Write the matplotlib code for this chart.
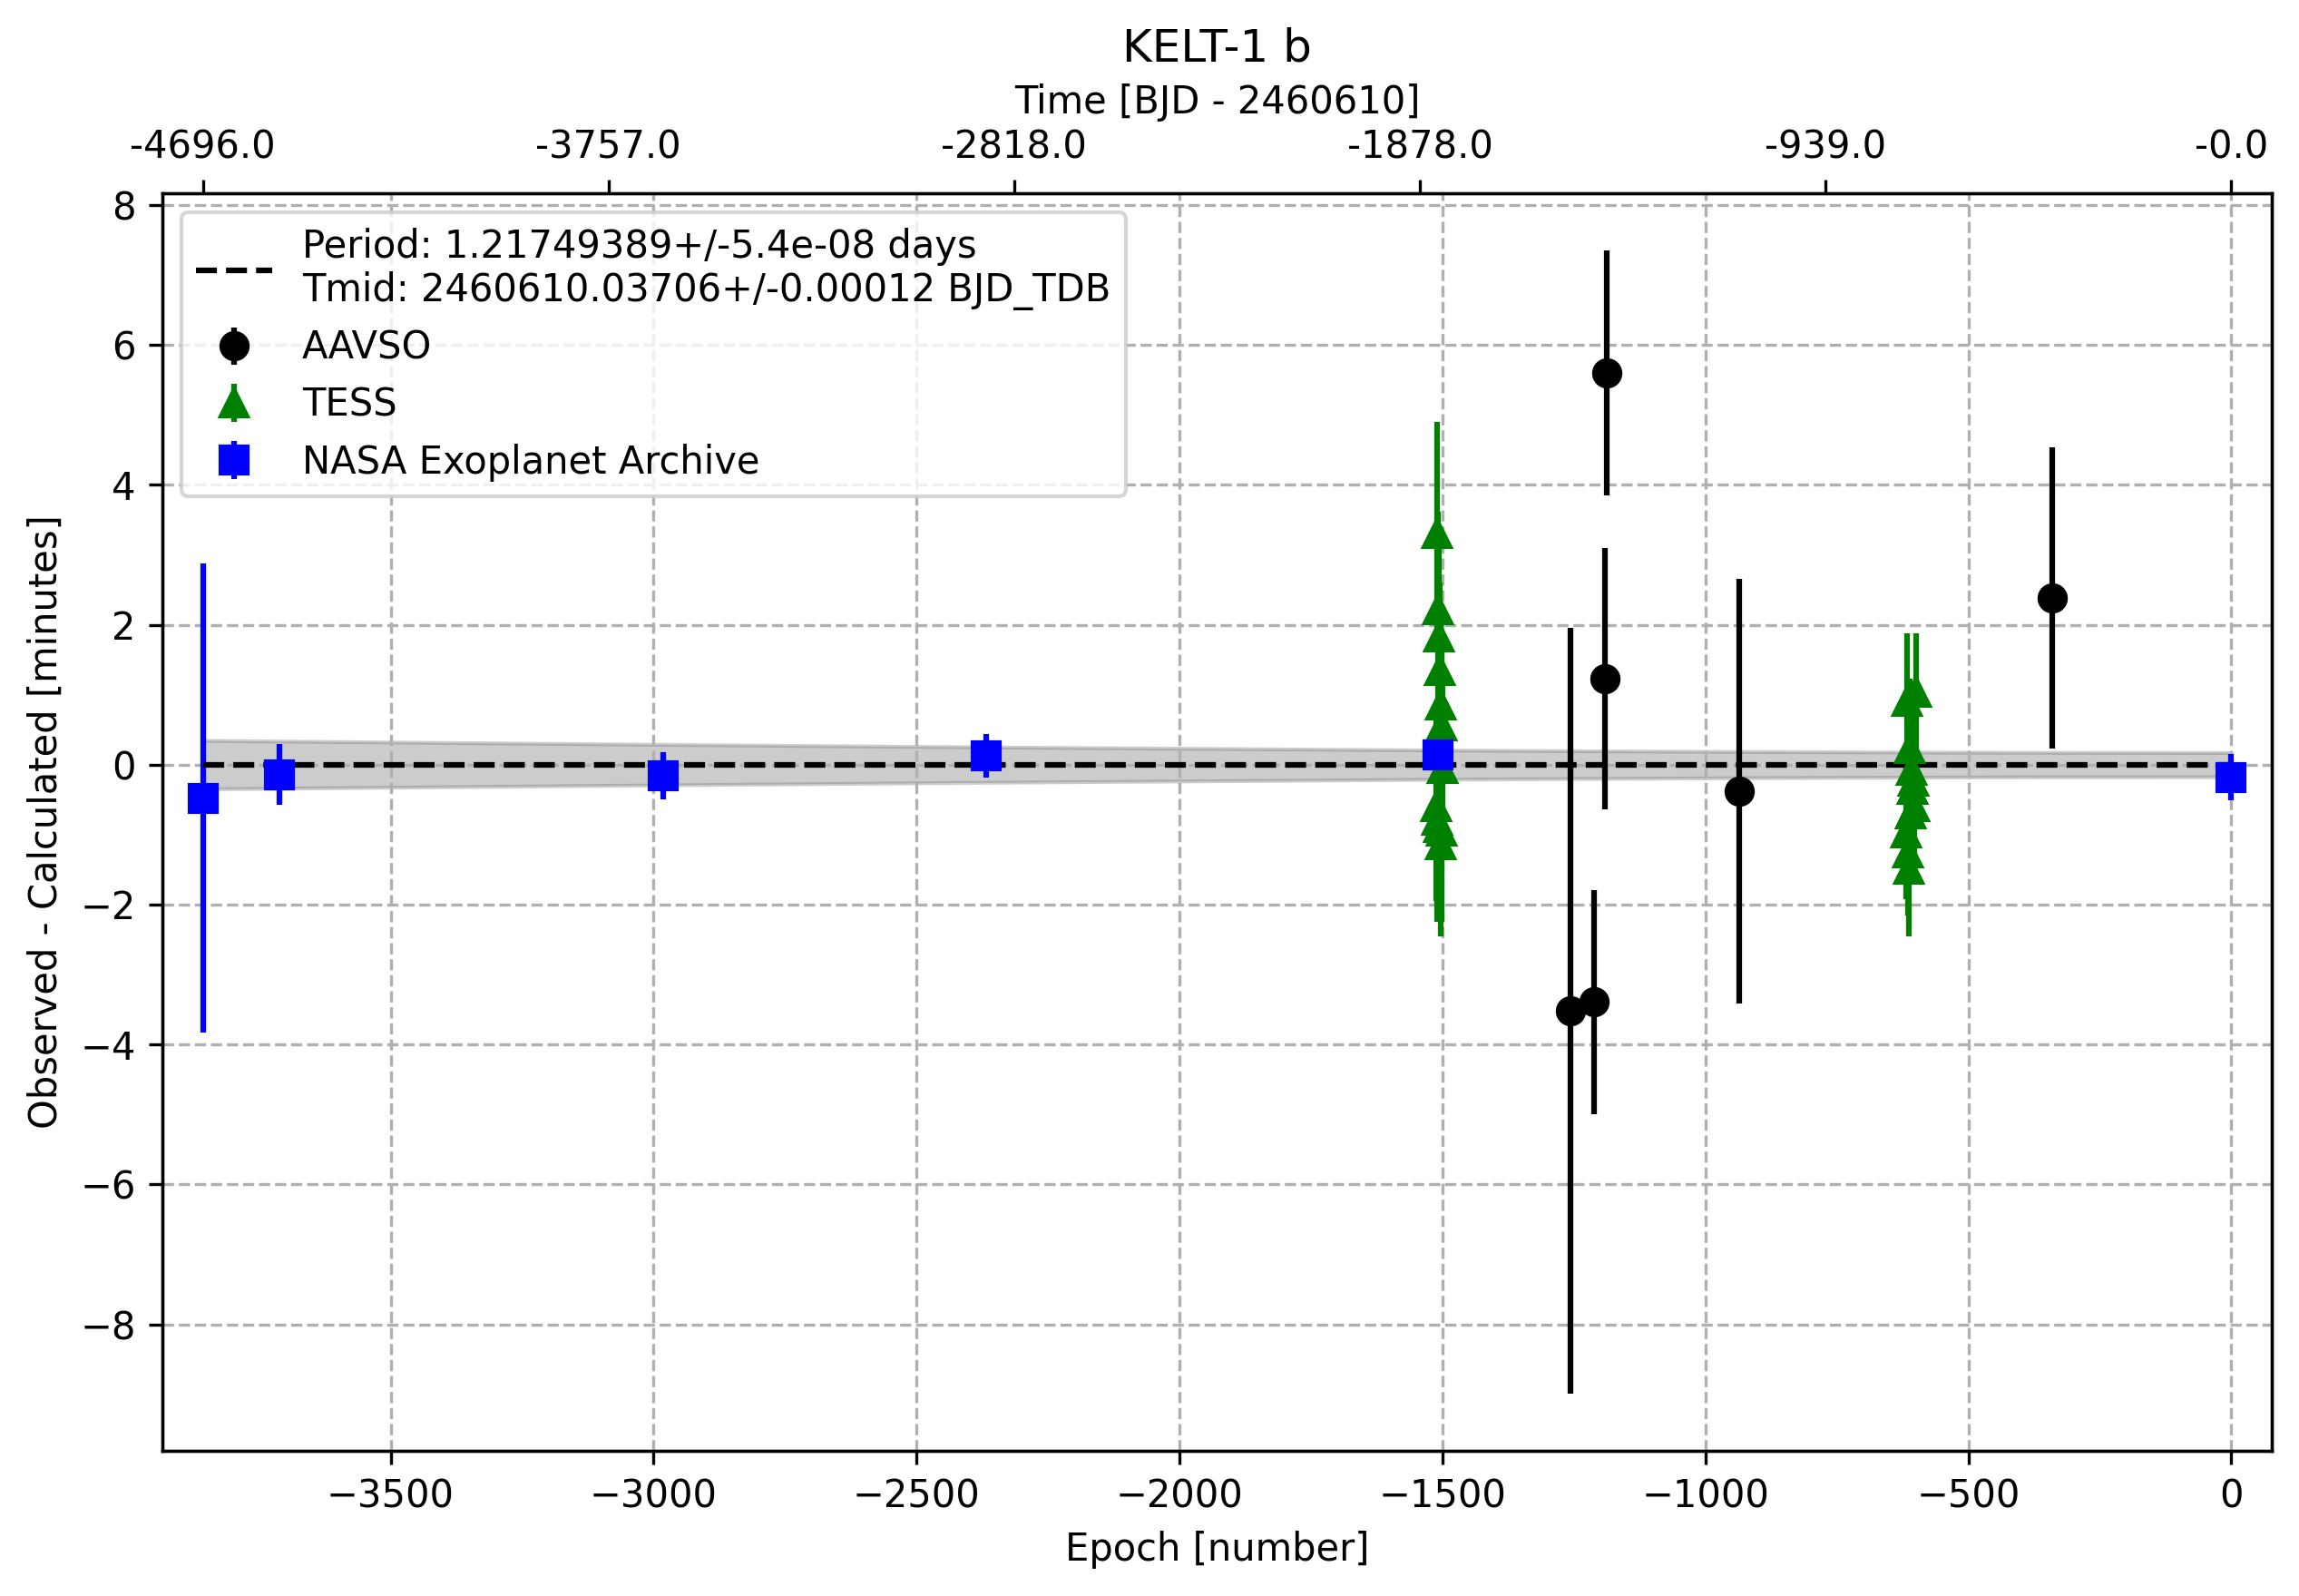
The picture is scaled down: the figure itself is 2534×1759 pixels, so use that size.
import numpy as np
import matplotlib
matplotlib.use("Agg")
import matplotlib.pyplot as plt

# ephemeris from the legend
period = 1.21749389
period_err = 5.4e-08
tmid = 2460610.03706
tmid_err = 0.00012

# AAVSO observations (epoch, O-C minutes, error minutes)
aavso_epoch = [-1256, -1211, -1191, -1188, -935, -341]
aavso_oc = [-3.52, -3.39, 1.23, 5.60, -0.38, 2.38]
aavso_err = [5.47, 1.60, 1.87, 1.75, 3.03, 2.15]

# TESS observations, two sectors
tess_epoch = [-1511, -1509, -1507, -1505, -1503, -1501, -1499, -1512, -1510, -1506, -1504, -1502,
              -616, -600, -612, -608, -604, -606, -602, -610, -618, -614, -613]
tess_oc = [3.30, 2.22, 1.82, 1.35, 0.85, 0.55, -0.05, -0.60, -0.80, -0.90, -1.15, -0.95,
           0.91, 1.04, 0.23, -0.08, -0.24, -0.35, -0.60, -0.71, -0.97, -1.26, -1.50]
tess_err = [1.60, 1.40, 1.30, 1.25, 1.30, 1.25, 1.30, 1.35, 1.45, 1.35, 1.30, 1.30,
            0.97, 0.84, 1.00, 1.05, 1.00, 1.00, 1.00, 1.00, 0.95, 0.90, 0.96]

# NASA Exoplanet Archive
nasa_epoch = [-3857, -3711, -2981, -2368, -1508, 0]
nasa_oc = [-0.48, -0.14, -0.16, 0.13, 0.14, -0.18]
nasa_err = [3.35, 0.43, 0.34, 0.31, 0.25, 0.33]

top_tick_labels = ["-4696.0", "-3757.0", "-2818.0", "-1878.0", "-939.0", "-0.0"]

all_epochs = np.sort(np.array(aavso_epoch + tess_epoch + nasa_epoch, dtype=float))
emin, emax = all_epochs.min(), all_epochs.max()

fig = plt.figure(figsize=(2534 / 300, 1759 / 300), dpi=300)
ax = fig.add_axes([0.0706, 0.0910, 0.9176, 0.7879])

ax.errorbar(aavso_epoch, aavso_oc, yerr=aavso_err, fmt="ko", ms=7, ls="none", label="AAVSO")
ax.errorbar(tess_epoch, tess_oc, yerr=tess_err, fmt="g^", ms=7, ls="none", label="TESS")
ax.errorbar(nasa_epoch, nasa_oc, yerr=nasa_err, fmt="bs", ms=7, ls="none",
            label="NASA Exoplanet Archive")

# ephemeris uncertainty band (minutes)
band = np.sqrt((all_epochs * period_err) ** 2 + tmid_err ** 2) * 24 * 60
ax.fill_between(all_epochs, -band, band, color="grey", alpha=0.4)
ax.plot(all_epochs, np.zeros_like(all_epochs), "k--", lw=1.5,
        label=f"Period: {period}+/-{period_err} days\n"
              f"Tmid: {tmid:.5f}+/-{tmid_err} BJD_TDB")

pad = 0.02 * (emax - emin)
ax.set_xlim(emin - pad, emax + pad)
ax.set_xlabel("Epoch [number]")
ax.set_ylabel("Observed - Calculated [minutes]")
ax.grid(True, ls="--")
ax.legend(loc="upper left")

ax2 = ax.twiny()
ax2.set_xlim(ax.get_xlim())
ax2.set_xticks(np.linspace(emin, emax, 6))
ax2.set_xticklabels(top_tick_labels)
ax2.set_xlabel("Time [BJD - 2460610]")
ax.set_title("KELT-1 b")

fig.savefig("out.png", dpi=300)
